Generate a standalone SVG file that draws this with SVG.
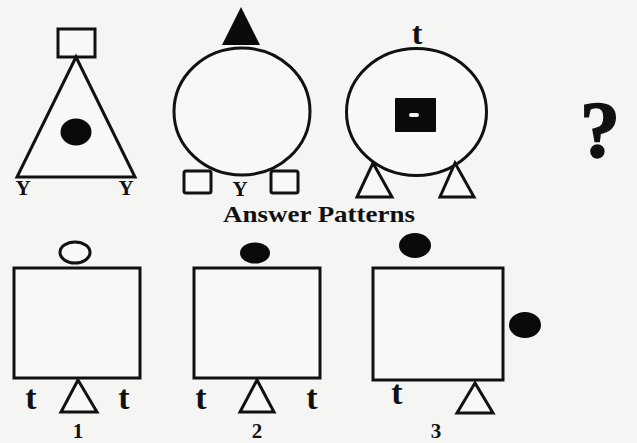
<svg xmlns="http://www.w3.org/2000/svg" width="637" height="443" viewBox="0 0 637 443">
<style>
.o{fill:none;stroke:#111;stroke-width:3}
.w{fill:#f8f8f6;stroke:#111;stroke-width:3}
.k{fill:#0a0a0a;stroke:none}
.t{font-family:"Liberation Serif","Times New Roman",serif;font-weight:bold;fill:#111}
</style>
<rect width="637" height="443" fill="#f5f5f3"/>
<g id="fig1">
<rect class="w" x="58" y="29" width="37" height="28"/>
<polygon class="w" points="76,57 17,177 135,177"/>
<ellipse class="k" cx="76" cy="132" rx="15.5" ry="13.5"/>
<text class="t" x="23" y="195" font-size="21" text-anchor="middle">Y</text>
<text class="t" x="126" y="195" font-size="21" text-anchor="middle">Y</text>
</g>
<g id="fig2">
<polygon class="k" points="241,7 222,45 260,45"/>
<ellipse class="w" cx="242" cy="111.5" rx="68" ry="63.5"/>
<rect class="w" x="184" y="171" width="27" height="22" rx="2"/>
<rect class="w" x="271" y="171" width="27" height="22" rx="2"/>
<text class="t" x="240" y="196" font-size="21" text-anchor="middle">Y</text>
</g>
<g id="fig3">
<text class="t" x="417" y="44" font-size="32" text-anchor="middle">t</text>
<ellipse class="w" cx="416.5" cy="112" rx="70" ry="63.5"/>
<rect class="k" x="395" y="98" width="41" height="34" rx="1"/>
<rect x="409" y="113" width="10" height="4" rx="2" fill="#f0f0f0"/>
<polygon class="w" points="373,163 357,197 392,197"/>
<polygon class="w" points="455,163 440,197 474,197"/>
</g>
<g id="question">
<text class="t" x="600" y="157" font-size="80" text-anchor="middle" stroke="#111" stroke-width="1.5">?</text>
</g>
<g id="title">
<text class="t" x="223" y="222" font-size="23" textLength="192" lengthAdjust="spacingAndGlyphs">Answer Patterns</text>
</g>
<g id="answer1">
<ellipse class="w" cx="75" cy="252.5" rx="15" ry="10.5"/>
<rect class="w" x="14" y="268" width="126" height="110"/>
<text class="t" x="31" y="409" font-size="34" text-anchor="middle">t</text>
<text class="t" x="124" y="409" font-size="34" text-anchor="middle">t</text>
<polygon class="w" points="78,380 61,412 97,412"/>
<text class="t" x="78" y="438" font-size="21" text-anchor="middle">1</text>
</g>
<g id="answer2">
<ellipse class="k" cx="255" cy="253" rx="15" ry="10.5"/>
<rect class="w" x="194" y="268" width="126" height="110"/>
<text class="t" x="201" y="409" font-size="34" text-anchor="middle">t</text>
<text class="t" x="312" y="409" font-size="34" text-anchor="middle">t</text>
<polygon class="w" points="257,380 240,412 274,412"/>
<text class="t" x="257" y="438" font-size="21" text-anchor="middle">2</text>
</g>
<g id="answer3">
<ellipse class="k" cx="415" cy="245.5" rx="16" ry="12.5"/>
<rect class="w" x="373" y="268" width="130" height="112"/>
<ellipse class="k" cx="525" cy="325" rx="16" ry="13"/>
<text class="t" x="397" y="404" font-size="34" text-anchor="middle">t</text>
<polygon class="w" points="475,383 457,413 493,413"/>
<text class="t" x="436" y="438" font-size="21" text-anchor="middle">3</text>
</g>
</svg>
